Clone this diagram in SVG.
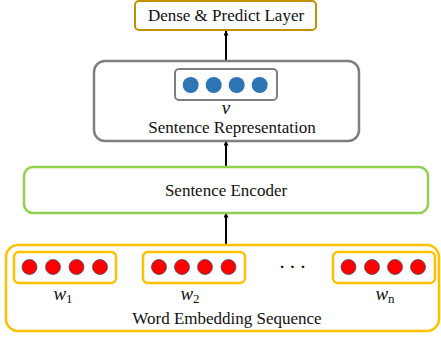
<svg xmlns="http://www.w3.org/2000/svg" width="441" height="338" viewBox="0 0 441 338">
<defs>
<marker id="ah" viewBox="0 0 10 10" refX="9" refY="5" markerWidth="5" markerHeight="5" orient="auto" markerUnits="userSpaceOnUse">
<path d="M0,0 L10,5 L0,10 z" fill="#000"/>
</marker>
</defs>
<style>
text{font-family:"Liberation Serif","Times New Roman",serif;fill:#111;}
.lbl{font-size:17px;text-anchor:middle;}
.math{font-size:19px;font-style:italic;text-anchor:middle;}
.sub{font-size:13px;font-style:normal;}
.red{fill:#FF0000;stroke:#44546A;stroke-width:0.8;}
.blue{fill:#2E75B6;}
.wbox{fill:#fff;stroke:#FFC000;stroke-width:2.5;}
.conn{stroke:#000;stroke-width:2;fill:none;marker-end:url(#ah);}
</style>
<rect width="441" height="338" fill="#fff"/>
<g id="connectors">
<line class="conn" x1="226" y1="61" x2="226" y2="31"/>
<line class="conn" x1="226" y1="167" x2="226" y2="141"/>
<line class="conn" x1="226" y1="245" x2="226" y2="213"/>
</g>
<g id="dense">
<rect x="135" y="1" width="181" height="29" rx="4" fill="#fff" stroke="#BF9000" stroke-width="2"/>
<text class="lbl" x="226" y="21">Dense &amp; Predict Layer</text>
</g>
<g id="sentrep">
<rect x="94" y="61" width="265" height="80" rx="11" fill="#fff" stroke="#7F7F7F" stroke-width="2.5"/>
<rect x="175" y="69" width="102" height="31" rx="4" fill="#fff" stroke="#7F7F7F" stroke-width="2"/>
<circle class="blue" cx="190.7" cy="85" r="8"/>
<circle class="blue" cx="213.7" cy="85" r="8"/>
<circle class="blue" cx="236.7" cy="85" r="8"/>
<circle class="blue" cx="259.7" cy="85" r="8"/>
<text class="math" x="226" y="114">v</text>
<text class="lbl" x="232" y="133">Sentence Representation</text>
</g>
<g id="encoder">
<rect x="24" y="167" width="404" height="46" rx="9" fill="#fff" stroke="#92D050" stroke-width="2.5"/>
<text class="lbl" x="226" y="196">Sentence Encoder</text>
</g>
<g id="wordseq">
<rect x="6" y="245" width="433" height="86" rx="12" fill="#fff" stroke="#FFC000" stroke-width="2.5"/>
<rect class="wbox" x="14" y="252" width="102" height="31" rx="5"/>
<circle class="red" cx="29.5" cy="267" r="7.5"/>
<circle class="red" cx="53" cy="267" r="7.5"/>
<circle class="red" cx="76.5" cy="267" r="7.5"/>
<circle class="red" cx="100" cy="267" r="7.5"/>
<rect class="wbox" x="143" y="252" width="102" height="31" rx="5"/>
<circle class="red" cx="159" cy="267" r="7.5"/>
<circle class="red" cx="182" cy="267" r="7.5"/>
<circle class="red" cx="205" cy="267" r="7.5"/>
<circle class="red" cx="228.5" cy="267" r="7.5"/>
<rect class="wbox" x="333" y="252" width="102" height="31" rx="5"/>
<circle class="red" cx="348.5" cy="267" r="7.5"/>
<circle class="red" cx="372" cy="267" r="7.5"/>
<circle class="red" cx="395" cy="267" r="7.5"/>
<circle class="red" cx="418" cy="267" r="7.5"/>
<text class="lbl" x="294" y="274" style="font-size:22px;letter-spacing:3px">···</text>
<text class="math" x="63" y="300">w<tspan class="sub" dy="3">1</tspan></text>
<text class="math" x="190" y="300">w<tspan class="sub" dy="3">2</tspan></text>
<text class="math" x="385" y="300">w<tspan class="sub" dy="3">n</tspan></text>
<text class="lbl" x="227" y="324">Word Embedding Sequence</text>
</g>
</svg>
